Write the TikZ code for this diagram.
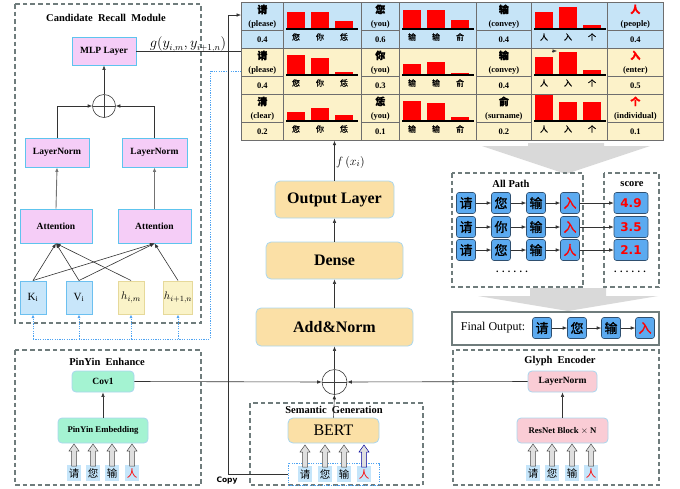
\documentclass[tikz,border=0pt]{standalone}
\usepackage{fontspec}
\setmainfont{Liberation Serif}
\setsansfont{DejaVu Sans}
\newfontfamily\cjk{Noto Sans CJK SC}
\newfontfamily\cjkb[FakeBold=1.2]{Noto Sans CJK SC}
\usetikzlibrary{arrows.meta,calc}

\definecolor{modpink}{HTML}{F5CDF7}
\definecolor{edgeblue}{HTML}{5EC4EE}
\definecolor{kvblue}{HTML}{C8E6FA}
\definecolor{kvedge}{HTML}{6CC0F0}
\definecolor{hyel}{HTML}{FAF3C8}
\definecolor{hedge}{HTML}{E6D99A}
\definecolor{coreorange}{HTML}{FBE0A6}
\definecolor{coreedge}{HTML}{A9D6EE}
\definecolor{mint}{HTML}{A4F3D2}
\definecolor{glyphpink}{HTML}{FACCD5}
\definecolor{rowblue}{HTML}{C6E4F7}
\definecolor{rowyel}{HTML}{FCF2C9}
\definecolor{gridgray}{HTML}{6E6E6E}
\definecolor{pathblue}{HTML}{5BAAF0}
\definecolor{pathedge}{HTML}{2F4F6F}
\definecolor{dashgray}{HTML}{6F7C7C}
\definecolor{dotblue}{HTML}{4DA3F2}
\definecolor{charbg}{HTML}{C5E5FA}
\definecolor{bigarrow}{HTML}{D9D9D9}

\newcommand\cj[1]{{\cjkb\fontsize{10}{10}\selectfont #1}}
% label column of the score table: name, x, width, top, fill, upper text, value
\newcommand\labcell[7]{%
  \node[tcell,fill=#5,minimum width=#3pt,minimum height=28pt,anchor=north west] (#1t) at (#2,#4) {#6};
  \node[tcell,fill=#5,minimum width=#3pt,minimum height=18pt,anchor=north west] (#1b) at (#2,#4+28) {#7};
}
% bar column: name, x, width, top, fill, bar heights, bar labels
\newcommand\barcell[7]{%
  \node[tcell,fill=#5,minimum width=#3pt,minimum height=46pt,anchor=north west] (#1) at (#2,#4) {};
  \foreach \barh [count=\ci] in {#6} {\fill[barred] (#2+4+24*\ci-24,#4+27) rectangle ++(18,-\barh);}
  \draw[black,line width=1.1pt] (#2+3,#4+27) -- (#2+75,#4+27);
  \foreach \barlabel [count=\ci] in {#7} {\node[barlab] (#1-\ci) at (#2+13+24*\ci-24,#4+35) {\barlabel};}
}

\begin{document}
\begin{tikzpicture}[x=1pt,y=-1pt,
  line/.style={draw=black!80,line width=0.6pt},
  arr/.style={line,-{Latex[length=4.5pt,width=3.6pt]}},
  dbox/.style={draw=dashgray,line width=1.1pt,dash pattern=on 4.5pt off 3pt},
  ttl/.style={font=\bfseries\fontsize{10.5}{12}\selectfont,inner sep=0pt},
  pinkbox/.style={draw=edgeblue,fill=modpink,line width=0.8pt,inner sep=0pt,font=\bfseries\fontsize{9.5}{11}\selectfont},
  kvbox/.style={draw=kvedge,fill=kvblue,line width=1pt,inner sep=0pt,minimum width=26pt,minimum height=33pt,font=\fontsize{11}{12}\selectfont},
  hbox/.style={kvbox,draw=hedge,fill=hyel},
  corebox/.style={draw=coreedge,fill=coreorange,rounded corners=5pt,line width=0.8pt,inner sep=0pt,font=\bfseries\fontsize{16}{18}\selectfont},
  mintbox/.style={draw=coreedge,fill=mint,rounded corners=4pt,line width=0.8pt,inner sep=0pt,font=\bfseries\fontsize{9.5}{11}\selectfont},
  glyphbox/.style={mintbox,fill=glyphpink},
  oplus/.style={circle,draw=black!75,line width=0.6pt,inner sep=0pt,
    path picture={\draw[black!75,line width=0.6pt]
      (path picture bounding box.north) -- (path picture bounding box.south)
      (path picture bounding box.west) -- (path picture bounding box.east);}},
  tcell/.style={draw=gridgray,line width=0.7pt,inner sep=0pt,align=center,font=\bfseries\fontsize{8.5}{13}\selectfont},
  barred/.style={fill=red},
  barlab/.style={inner sep=0pt,font=\cjkb\fontsize{8}{8}\selectfont},
  charbox/.style={fill=charbg,inner sep=0pt,minimum width=14pt,minimum height=16pt,font=\cjk\fontsize{10.5}{10.5}\selectfont},
  pnode/.style={draw=pathedge,fill=pathblue,rounded corners=2.5pt,line width=0.6pt,inner sep=0pt,minimum width=19pt,minimum height=21pt,font=\cjkb\fontsize{13}{13}\selectfont},
  snode/.style={pnode,minimum width=34pt,text=red,font=\sffamily\bfseries\fontsize{12}{12}\selectfont},
  bluedot/.style={draw=dotblue,dash pattern=on 1.2pt off 1.2pt,line width=0.7pt},
  pics/hollow/.style={code={\draw[#1,fill=gray!25,line width=0.5pt]
     (-2.5,0) -- (-2.5,-15) -- (-5,-15) -- (0,-22) -- (5,-15) -- (2.5,-15) -- (2.5,0) -- cycle;}},
  pics/hollow/.default=black!70,
]
\useasboundingbox (0,0) rectangle (680,488);

% ---------------- Candidate Recall Module ----------------
\draw[dbox] (15,4) rectangle (201,323);
\node[ttl] (crmT) at (106,18) {Candidate\ \ Recall\ \ Module};
\node[pinkbox,minimum width=64pt,minimum height=28pt] (mlp) at (104,51) {MLP Layer};
\node[oplus,minimum size=23pt] (plus1) at (104,106) {};
\node[pinkbox,minimum width=64pt,minimum height=29pt] (ln1) at (57,152.5) {LayerNorm};
\node[pinkbox,minimum width=65pt,minimum height=29pt] (ln2) at (154.5,152.5) {LayerNorm};
\node[pinkbox,minimum width=72pt,minimum height=34pt] (att1) at (56,226) {Attention};
\node[pinkbox,minimum width=73pt,minimum height=34pt] (att2) at (154.5,226) {Attention};
\node[kvbox] (ki) at (33,297.5) {K$_\mathrm{i}$};
\node[kvbox] (vi) at (79,297.5) {V$_\mathrm{i}$};
\node[hbox] (him) at (131,297.5) {$h_{i,m}$};
\node[hbox] (hin) at (178,297.5) {$h_{i+1,n}$};

\draw[arr] (ln1.north) |- (plus1.west);
\draw[arr] (ln2.north) |- (plus1.east);
\draw[arr] (plus1.north) -- (mlp.south);
\draw[arr,draw=black!55,line width=0.9pt] (att1.north) -- (ln1.south);
\draw[arr,draw=black!55,line width=0.9pt] (att2.north) -- (ln2.south);
\draw[arr] (ki.north) -- (att1.south);
\draw[arr] (ki.north) -- (att2.south);
\draw[arr] (vi.north) -- (att1.south);
\draw[arr] (vi.north) -- (att2.south);
\draw[arr] (him.north) -- (att1.south);
\draw[arr] (hin.north) -- (att2.south);

% g(.) output line runs beneath the table
\coordinate (gEnd) at (557,51);
\draw[line] (mlp.east) -- (gEnd);
\node[anchor=south,inner sep=1pt,font=\fontsize{13.5}{13.5}\selectfont] (glab) at (188,53) {$g(y_{i,m},y_{i+1,n})$};

% ---------------- score table ----------------
\labcell{r1c1}{241}{42}{2}{rowblue}{\cj{请}\\(please)}{0.4}
\barcell{r1c2}{283}{78}{2}{rowblue}{17,17,8}{您,你,恁}
\labcell{r1c3}{361}{38}{2}{rowblue}{\cj{您}\\(you)}{0.6}
\barcell{r1c4}{399}{77}{2}{rowblue}{19,19,9}{输,输,俞}
\labcell{r1c5}{476}{55}{2}{rowblue}{\cj{输}\\(convey)}{0.4}
\barcell{r1c6}{531}{76}{2}{rowblue}{17,22,4}{人,入,个}
\labcell{r1c7}{607}{56}{2}{rowblue}{\textcolor{red}{\cj{人}}\\(people)}{0.4}

\labcell{r2c1}{241}{42}{48}{rowyel}{\cj{请}\\(please)}{0.4}
\barcell{r2c2}{283}{78}{48}{rowyel}{20,17,3}{您,你,恁}
\labcell{r2c3}{361}{38}{48}{rowyel}{\cj{你}\\(you)}{0.3}
\barcell{r2c4}{399}{77}{48}{rowyel}{11,13,2}{输,输,俞}
\labcell{r2c5}{476}{55}{48}{rowyel}{\cj{输}\\(convey)}{0.4}
\barcell{r2c6}{531}{76}{48}{rowyel}{18,23,5}{人,入,个}
\labcell{r2c7}{607}{56}{48}{rowyel}{\textcolor{red}{\cj{入}}\\(enter)}{0.5}

\labcell{r3c1}{241}{42}{94}{rowyel}{\cj{清}\\(clear)}{0.2}
\barcell{r3c2}{283}{78}{94}{rowyel}{9,13,6}{您,你,恁}
\labcell{r3c3}{361}{38}{94}{rowyel}{\cj{恁}\\(you)}{0.1}
\barcell{r3c4}{399}{77}{94}{rowyel}{20,18,4}{输,输,俞}
\labcell{r3c5}{476}{55}{94}{rowyel}{\cj{俞}\\(surname)}{0.2}
\barcell{r3c6}{531}{76}{94}{rowyel}{26,19,19}{人,入,个}
\labcell{r3c7}{607}{56}{94}{rowyel}{\textcolor{red}{\cj{个}}\\(individual)}{0.1}

\draw[arr] ($(gEnd)+(-5,0)$) -- (gEnd);

% dotted feed of K, V and h into the table
\coordinate (dbL) at (33,339);
\coordinate (dbR) at (210,339);
\coordinate (dtR) at (210,71);
\draw[bluedot] (ki.south |- dbL) -- (dbR) -- (dtR) -- (dtR -| r2c1t.west);
\foreach \n in {ki,vi,him,hin}
  \draw[bluedot,-{Latex[length=3.5pt,width=3pt]}] (\n.south |- dbL) -- (\n.south);

% ---------------- central stack ----------------
\node[corebox,minimum width=119pt,minimum height=37pt] (outl) at (334.5,199.5) {Output Layer};
\node[corebox,minimum width=137pt,minimum height=37pt] (dense) at (334.5,260.5) {Dense};
\node[corebox,minimum width=157pt,minimum height=38pt] (addn) at (334.5,327) {Add\&Norm};
\node[oplus,minimum size=25pt] (plus2) at (334.5,382) {};
\draw[arr] (outl.north) -- (outl.north |- r3c2.south);
\node[anchor=west,inner sep=0pt,font=\fontsize{12.5}{12.5}\selectfont] (flab) at (336,162) {$f\,(x_i)$};
\draw[arr] (dense.north) -- (outl.south);
\draw[arr] (addn.north) -- (dense.south);
\draw[arr] (plus2.north) -- (addn.south);

% ---------------- Semantic Generation ----------------
\draw[dbox] (250,403) rectangle (423,485);
\node[ttl] (semT) at (334,410) {Semantic\ \ Generation};
\node[corebox,minimum width=91pt,minimum height=25pt,font=\fontsize{16}{18}\selectfont] (bert) at (333.5,430.5) {BERT};
\node[bluedot,minimum width=91pt,minimum height=22pt,inner sep=0pt] (semin) at (333.5,474) {};
\node[charbox] (s1) at (305,474) {请};
\node[charbox] (s2) at (325,474) {您};
\node[charbox] (s3) at (344,474) {输};
\node[charbox,text=red] (s4) at (364,474) {人};
\pic at (305,467) {hollow};
\pic at (325,467) {hollow};
\pic at (344,467) {hollow};
\pic at (364,467) {hollow=blue!60!black};
\draw[arr] (bert.north) -- (plus2.south);

% ---------------- PinYin Enhance ----------------
\draw[dbox] (15,350) rectangle (201,485);
\node[ttl] (pyT) at (107,362) {PinYin\ \ Enhance};
\node[mintbox,minimum width=62pt,minimum height=21pt] (cov) at (103,381.5) {Cov1};
\node[mintbox,minimum width=90pt,minimum height=25pt,font=\bfseries\fontsize{8.7}{10}\selectfont] (pemb) at (103,430.5) {PinYin Embedding};
\node[charbox] (y1) at (74,473) {请};
\node[charbox] (y2) at (93,473) {您};
\node[charbox] (y3) at (112,473) {输};
\node[charbox,text=red] (y4) at (132,473) {人};
\foreach \xx in {74,93,112,132} \pic at (\xx,466) {hollow};
\draw[arr] (pemb.north) -- (cov.south);

% ---------------- Glyph Encoder ----------------
\draw[dbox] (453,350) rectangle (659,485);
\node[ttl] (glT) at (560,361) {Glyph\ \ Encoder};
\node[glyphbox,minimum width=69pt,minimum height=21pt] (gln) at (562.5,381.5) {LayerNorm};
\node[glyphbox,minimum width=91pt,minimum height=25pt,font=\bfseries\fontsize{8.7}{10}\selectfont] (resn) at (562.5,430.5) {ResNet Block $\times$ N};
\node[charbox] (g1) at (533,473) {请};
\node[charbox] (g2) at (552,473) {您};
\node[charbox] (g3) at (572,473) {输};
\node[charbox,text=red] (g4) at (591,473) {人};
\foreach \xx in {533,552,572,591} \pic at (\xx,466) {hollow};
\draw[arr] (resn.north) -- (gln.south);

% fusion of the three branches
\draw[arr] (cov.east) -- (plus2.west);
\draw[arr] (gln.west) -- (plus2.east);

% copy of the input sequence into the table
\coordinate (cpB) at (228,474);
\coordinate (cpT) at (228,15);
\draw[arr] (semin.west) -- (cpB) -- (cpT) -- (cpT -| r1c1t.west);
\node[inner sep=0pt,font=\sffamily\bfseries\fontsize{7.5}{9}\selectfont] (copyT) at (227,481) {Copy};

% ---------------- path search ----------------
\fill[bigarrow] (528,143) -- (604,143) -- (604,146) -- (650,146) -- (566,174) -- (482,146) -- (528,146) -- cycle;
\draw[dbox] (452,173) rectangle (583,287);
\node[ttl] (apT) at (511,184) {All Path};
\draw[dbox] (604,173) rectangle (659,287);
\node[ttl] (scT) at (632,184) {score};

\node[pnode] (p11) at (466,203) {请};
\node[pnode] (p12) at (501,203) {您};
\node[pnode] (p13) at (536,203) {输};
\node[pnode,text=red] (p14) at (570,203) {入};
\node[pnode] (p21) at (466,227) {请};
\node[pnode] (p22) at (501,227) {你};
\node[pnode] (p23) at (536,227) {输};
\node[pnode,text=red] (p24) at (570,227) {入};
\node[pnode] (p31) at (466,250) {请};
\node[pnode] (p32) at (501,250) {您};
\node[pnode] (p33) at (536,250) {输};
\node[pnode,text=red] (p34) at (570,250) {人};
\node[snode] (sc1) at (631,203) {4.9};
\node[snode] (sc2) at (631,227) {3.5};
\node[snode] (sc3) at (631,250) {2.1};
\foreach \r in {1,2,3} {
  \draw[arr] (p\r1) -- (p\r2);
  \draw[arr] (p\r2) -- (p\r3);
  \draw[arr] (p\r3) -- (p\r4);
  \draw[arr] (p\r4) -- (sc\r);
}
\node[font=\bfseries\fontsize{10}{10}\selectfont,inner sep=0pt] (pdots) at (512,272) {. . . . . .};
\node[font=\bfseries\fontsize{10}{10}\selectfont,inner sep=0pt] (sdots) at (630,272) {. . . . . .};

\fill[bigarrow] (530,288) -- (606,288) -- (606,296) -- (658,296) -- (568,311) -- (478,296) -- (530,296) -- cycle;

% ---------------- final output ----------------
\draw[draw=dashgray,line width=1.2pt] (452,312) rectangle (659,345);
\node[inner sep=0pt,font=\fontsize{12}{12}\selectfont] (finT) at (493,328) {Final Output:};
\node[pnode] (f1) at (542,328) {请};
\node[pnode] (f2) at (577,328) {您};
\node[pnode] (f3) at (611,328) {输};
\node[pnode,text=red] (f4) at (645,328) {入};
\draw[arr] (f1) -- (f2);
\draw[arr] (f2) -- (f3);
\draw[arr] (f3) -- (f4);
\end{tikzpicture}
\end{document}
